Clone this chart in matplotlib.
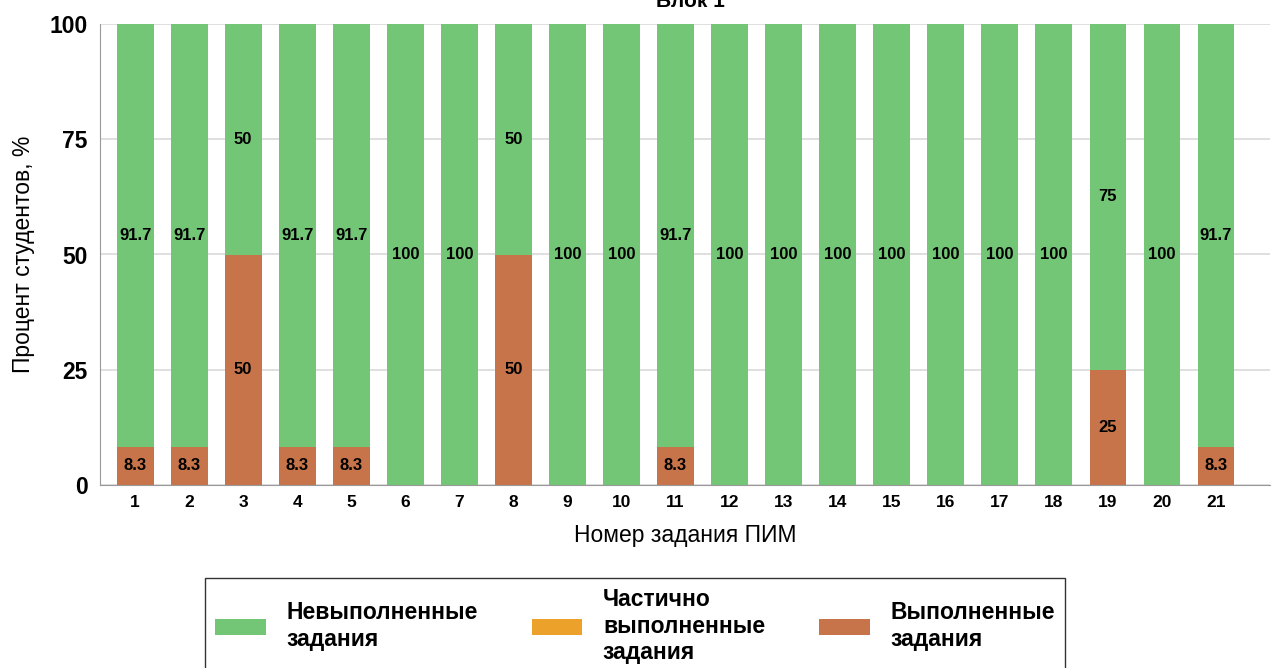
import numpy as np
import matplotlib.pyplot as plt

plt.rcParams['font.family'] = ['Liberation Sans', 'DejaVu Sans']

# Блок 1 - результаты по заданиям ПИМ
zadaniya = [str(i) for i in range(1, 22)]
nevypolneno = [91.7, 91.7, 50, 91.7, 91.7, 100, 100, 50, 100, 100, 91.7,
               100, 100, 100, 100, 100, 100, 100, 75, 100, 91.7]
chastichno = [0] * 21
vypolneno = [8.3, 8.3, 50, 8.3, 8.3, 0, 0, 50, 0, 0, 8.3,
             0, 0, 0, 0, 0, 0, 0, 25, 0, 8.3]

c_green = "#73c676"
c_partial = "#eba12a"
c_done = "#c8744a"

fig = plt.figure(figsize=(12.82, 6.68), dpi=100)
ax = fig.add_axes([100 / 1282, 1 - 485 / 668, 1170 / 1282, 461 / 668])

x = np.arange(len(zadaniya))
w = 0.68
b1 = ax.bar(x, vypolneno, w, color=c_done, label="Выполненные\nзадания", zorder=2)
b2 = ax.bar(x, chastichno, w, bottom=vypolneno, color=c_partial,
            label="Частично\nвыполненные\nзадания", zorder=2)
bottom2 = np.array(vypolneno) + np.array(chastichno)
b3 = ax.bar(x, nevypolneno, w, bottom=bottom2, color=c_green,
            label="Невыполненные\nзадания", zorder=2)

# подписи значений
for i in range(len(x)):
    if vypolneno[i] > 0:
        ax.text(x[i], vypolneno[i] / 2, f"{vypolneno[i]:g}", ha="center", va="center",
                fontsize=12, fontweight="bold", zorder=3)
    if nevypolneno[i] > 0:
        ax.text(x[i], bottom2[i] + nevypolneno[i] / 2, f"{nevypolneno[i]:g}",
                ha="center", va="center", fontsize=12, fontweight="bold", zorder=3)

ax.set_xlim(-0.65, 21.0)
ax.set_ylim(0, 100)
ax.set_yticks([0, 25, 50, 75, 100])
ax.set_xticks(x)
ax.set_xticklabels(zadaniya)
ax.tick_params(axis="both", length=0)
ax.tick_params(axis="y", labelsize=16.5, pad=9)
ax.tick_params(axis="x", labelsize=12.5, pad=7)
for lbl in ax.get_xticklabels() + ax.get_yticklabels():
    lbl.set_fontweight("bold")
ax.grid(axis="y", color="#d9d9d9", linewidth=1.2, zorder=0)
ax.set_axisbelow(True)
for s in ["top", "right"]:
    ax.spines[s].set_visible(False)
ax.spines["left"].set_color("#999999")
ax.spines["bottom"].set_color("#999999")

ax.set_xlabel("Номер задания ПИМ", fontsize=16.5, labelpad=10)
ax.set_ylabel("Процент студентов, %", fontsize=16.5, labelpad=10)

fig.text(690 / 1282, 0.9985, "Блок 1", ha="center", va="center",
         fontsize=15, fontweight="bold")

leg = fig.legend(handles=[b3, b2, b1], loc="upper left", ncol=3, mode="expand",
                 bbox_to_anchor=(205 / 1282, 0, 860 / 1282, 1 - 578 / 668),
                 prop={"weight": "bold", "size": 16.5},
                 handlelength=2.2, handleheight=0.7, handletextpad=0.9,
                 borderpad=0.45, borderaxespad=0, frameon=True, fancybox=False)
for t in leg.get_texts():
    t.set_linespacing(1.18)
leg.get_frame().set_edgecolor("black")
leg.get_frame().set_linewidth(1.0)

plt.savefig("out.png", dpi=100)
